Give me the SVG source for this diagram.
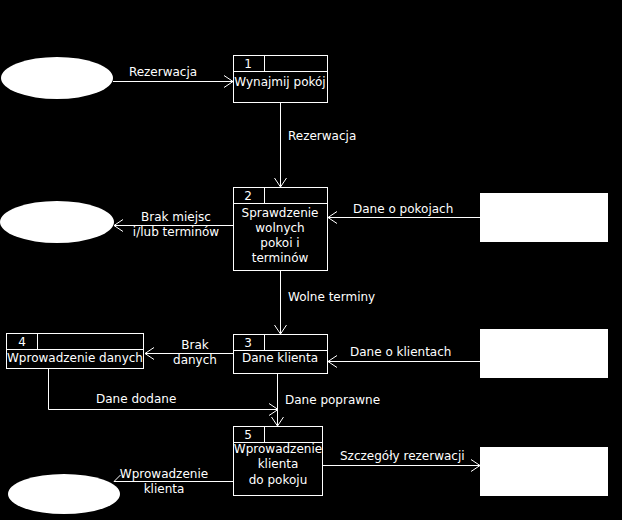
<svg xmlns="http://www.w3.org/2000/svg" width="622" height="520" viewBox="0 0 622 520">
<defs>
<marker id="ah" markerWidth="12" markerHeight="14" refX="10" refY="7" orient="auto" markerUnits="userSpaceOnUse">
<path d="M1,1 L10,7 L1,13" fill="none" stroke="#fff" stroke-width="1"/>
</marker>
<marker id="tick" markerWidth="12" markerHeight="14" refX="10" refY="7" orient="auto" markerUnits="userSpaceOnUse">
<path d="M3,14 L10,7" fill="none" stroke="#fff" stroke-width="1"/>
</marker>
<style>
text{font-family:"DejaVu Sans",sans-serif;font-size:12px;fill:#fff}
.c{text-anchor:middle}
.box{fill:none;stroke:#fff;stroke-width:1}
.ent{fill:#fff;stroke:none}
.ln{fill:none;stroke:#fff;stroke-width:1}
.ar{fill:none;stroke:#fff;stroke-width:1;marker-end:url(#ah)}
</style>
</defs>
<rect x="0" y="0" width="622" height="520" fill="#000"/>
<g id="e1"><ellipse class="ent" cx="57" cy="78" rx="56" ry="21"/></g>
<g id="e2"><ellipse class="ent" cx="57" cy="222" rx="57" ry="21"/></g>
<g id="e3"><ellipse class="ent" cx="64" cy="494" rx="56" ry="20"/></g>
<g id="s1"><rect class="ent" x="480" y="193" width="128" height="49"/></g>
<g id="s2"><rect class="ent" x="480" y="329" width="128" height="49"/></g>
<g id="s3"><rect class="ent" x="480" y="447" width="128" height="49"/></g>
<g id="p1">
<rect class="box" x="233.5" y="55.5" width="94" height="47"/>
<line class="ln" x1="233" y1="71.5" x2="328" y2="71.5"/>
<line class="ln" x1="264.5" y1="55" x2="264.5" y2="71"/>
<text class="c" x="248" y="68">1</text>
<text class="c" x="280" y="86">Wynajmij pokój</text>
</g>
<g id="p2">
<rect class="box" x="233.5" y="187.5" width="94" height="83"/>
<line class="ln" x1="233" y1="203.5" x2="328" y2="203.5"/>
<line class="ln" x1="264.5" y1="187" x2="264.5" y2="203"/>
<text class="c" x="248" y="200">2</text>
<text class="c" x="280" y="217">Sprawdzenie</text>
<text class="c" x="280" y="232">wolnych</text>
<text class="c" x="280" y="247">pokoi i</text>
<text class="c" x="280" y="262">terminów</text>
</g>
<g id="p3">
<rect class="box" x="233.5" y="334.5" width="94" height="39"/>
<line class="ln" x1="233" y1="350.5" x2="328" y2="350.5"/>
<line class="ln" x1="264.5" y1="334" x2="264.5" y2="350"/>
<text class="c" x="248" y="347">3</text>
<text class="c" x="280" y="362">Dane klienta</text>
</g>
<g id="p4">
<rect class="box" x="6.5" y="333.5" width="137" height="35"/>
<line class="ln" x1="6" y1="349.5" x2="144" y2="349.5"/>
<line class="ln" x1="37.5" y1="333" x2="37.5" y2="349"/>
<text class="c" x="22" y="346">4</text>
<text class="c" x="75" y="362">Wprowadzenie danych</text>
</g>
<g id="p5">
<rect class="box" x="233.5" y="426.5" width="89" height="69"/>
<line class="ln" x1="233" y1="442.5" x2="323" y2="442.5"/>
<line class="ln" x1="264.5" y1="426" x2="264.5" y2="442"/>
<text class="c" x="248" y="439">5</text>
<text class="c" x="278" y="453">Wprowadzenie</text>
<text class="c" x="278" y="468">klienta</text>
<text class="c" x="278" y="484">do pokoju</text>
</g>
<g id="connectors">
<line class="ar" x1="113" y1="81.5" x2="233" y2="81.5"/>
<text class="c" x="163" y="76">Rezerwacja</text>
<line class="ar" x1="280.5" y1="102" x2="280.5" y2="187"/>
<text x="288" y="140">Rezerwacja</text>
<line class="ar" x1="233" y1="225.5" x2="114" y2="225.5"/>
<text class="c" x="176" y="221">Brak miejsc</text>
<text class="c" x="176" y="236">i/lub terminów</text>
<line class="ar" x1="480" y1="217.5" x2="328" y2="217.5"/>
<text x="353" y="213">Dane o pokojach</text>
<line class="ar" x1="280.5" y1="270" x2="280.5" y2="334"/>
<text x="288" y="301">Wolne terminy</text>
<line class="ar" x1="233" y1="353.5" x2="145" y2="353.5"/>
<text class="c" x="195" y="349">Brak</text>
<text class="c" x="195" y="364">danych</text>
<line class="ar" x1="480" y1="361.5" x2="328" y2="361.5"/>
<text x="350" y="356">Dane o klientach</text>
<polyline class="ar" points="48.5,368 48.5,409.5 278,409.5"/>
<text x="96" y="403">Dane dodane</text>
<line class="ar" x1="277.5" y1="374" x2="277.5" y2="426"/>
<text x="285" y="404">Dane poprawne</text>
<line class="ln" x1="233" y1="481.5" x2="114" y2="481.5" marker-end="url(#tick)"/>
<text class="c" x="164" y="478">Wprowadzenie</text>
<text class="c" x="164" y="493">klienta</text>
<line class="ar" x1="323" y1="465.5" x2="480" y2="465.5"/>
<text x="340" y="460">Szczegóły rezerwacji</text>
</g>
</svg>
